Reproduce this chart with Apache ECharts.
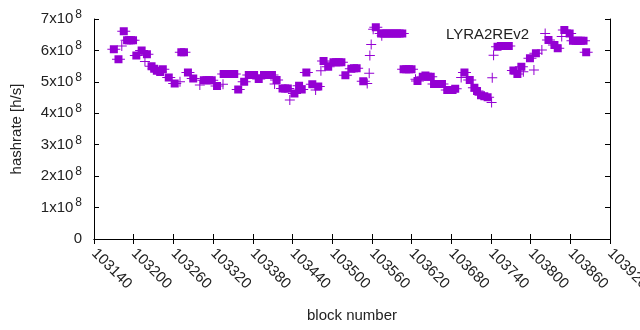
<!DOCTYPE html>
<html><head><meta charset="utf-8">
<script src="https://cdn.jsdelivr.net/npm/echarts@6/dist/echarts.min.js"></script>
<style>html,body{margin:0;padding:0;background:#fff}#c{width:640px;height:330px}</style>
</head><body><div id="c"></div>
<script>
// block number, hashrate [h/s] — squares
const squareBlocks = [103170,103177,103185,103190,103193,103196,103199,103204,103212,103220,103227,103231,103235,103240,103244,103253,103262,103272,103276,103282,103290,103306,103310,103314,103318,103326,103336,103340,103344,103348,103352,103358,103367,103374,103378,103382,103389,103397,103401,103405,103409,103416,103425,103429,103433,103443,103450,103454,103461,103470,103479,103487,103494,103502,103506,103510,103514,103520,103529,103533,103537,103547,103566,103574,103578,103582,103586,103590,103594,103598,103602,103606,103608,103612,103616,103620,103629,103637,103641,103645,103649,103654,103658,103662,103666,103674,103678,103682,103686,103700,103708,103715,103719,103725,103730,103735,103750,103755,103759,103763,103767,103774,103780,103786,103799,103808,103827,103836,103841,103851,103859,103864,103868,103872,103876,103880,103884];
const squareValues = [6.04e8,5.72e8,6.61e8,6.32e8,6.32e8,6.32e8,6.32e8,5.84e8,6.00e8,5.88e8,5.50e8,5.42e8,5.35e8,5.31e8,5.40e8,5.14e8,4.95e8,5.94e8,5.94e8,5.30e8,5.11e8,5.05e8,5.05e8,5.05e8,5.05e8,4.87e8,5.25e8,5.25e8,5.25e8,5.25e8,5.25e8,4.76e8,5.00e8,5.22e8,5.22e8,5.22e8,5.09e8,5.22e8,5.22e8,5.22e8,5.22e8,5.06e8,4.79e8,4.79e8,4.79e8,4.63e8,4.88e8,4.76e8,5.30e8,4.92e8,4.85e8,5.66e8,5.48e8,5.62e8,5.62e8,5.62e8,5.62e8,5.21e8,5.42e8,5.43e8,5.43e8,5.02e8,6.74e8,6.54e8,6.54e8,6.54e8,6.54e8,6.54e8,6.54e8,6.54e8,6.54e8,6.54e8,5.40e8,5.40e8,5.40e8,5.40e8,5.03e8,5.16e8,5.20e8,5.16e8,5.16e8,4.93e8,4.93e8,4.93e8,4.93e8,4.74e8,4.74e8,4.74e8,4.78e8,5.30e8,5.06e8,4.81e8,4.71e8,4.57e8,4.54e8,4.51e8,6.12e8,6.14e8,6.14e8,6.14e8,6.14e8,5.36e8,5.25e8,5.48e8,5.75e8,5.91e8,6.33e8,6.17e8,6.07e8,6.65e8,6.54e8,6.31e8,6.31e8,6.31e8,6.31e8,6.31e8,5.94e8];
// plus-only points
const plusBlocks = [103182,103217,103270,103300,103335,103413,103436,103475,103483,103553,103556,103557,103559,103562,103575,103626,103695,103741,103742,103744,103789,103805,103817,103822,103847];
const plusValues = [6.14e8,5.65e8,5.00e8,4.90e8,4.92e8,4.93e8,4.42e8,4.74e8,5.35e8,4.95e8,5.27e8,5.84e8,6.19e8,6.67e8,6.47e8,5.08e8,5.14e8,4.34e8,5.13e8,5.85e8,5.32e8,5.38e8,6.01e8,6.54e8,6.44e8];
const yTicks = ['0','1x10','2x10','3x10','4x10','5x10','6x10','7x10'];
const seriesName = 'LYRA2REv2';
const xMin = 103140, xMax = 103920, xStep = 60;

const col = '#9400d3';
const sq = squareBlocks.map((b,i)=>[b, squareValues[i]]);
const pl = plusBlocks.map((b,i)=>[b, plusValues[i]]);
const font = '"Liberation Sans", Arial, sans-serif';
const chart = echarts.init(document.getElementById('c'), null, {renderer:'canvas'});
const axLine = {show:true, lineStyle:{color:'#000', width:1}};
chart.setOption({
  animation:false,
  backgroundColor:'#fff',
  grid:{left:94, right:30, top:19, bottom:91, containLabel:false, outerBoundsMode:'none'},
  title:{text:seriesName, right:106, top:22, textStyle:{fontFamily:font, fontSize:15, fontWeight:'normal', color:'#222'}},
  xAxis:[{type:'value', min:xMin, max:xMax, interval:xStep, position:'bottom',
    axisLine:axLine, axisTick:{inside:true, length:5, lineStyle:{color:'#000'}},
    splitLine:{show:false},
    axisLabel:{rotate:-45, margin:12, fontFamily:font, fontSize:15, color:'#222', showMaxLabel:true, formatter:(v)=>String(v)},
    name:'block number', nameLocation:'middle', nameGap:69,
    nameTextStyle:{fontFamily:font, fontSize:15, color:'#222'}},
   {type:'value', min:xMin, max:xMax, interval:xStep, position:'top',
    axisLine:axLine, axisTick:{inside:true, length:5, lineStyle:{color:'#000'}},
    splitLine:{show:false}, axisLabel:{show:false}}],
  yAxis:[{type:'value', min:0, max:7e8, interval:1e8, position:'left',
    axisLine:axLine, axisTick:{inside:true, length:5, lineStyle:{color:'#000'}},
    splitLine:{show:false},
    axisLabel:{margin:12, color:'#222', fontFamily:font,
      formatter:(v)=>{const i=Math.round(v/1e8); return i===0?'{m|0}':'{m|'+yTicks[i]+'}{s|8}';},
      rich:{m:{fontSize:15, fontFamily:font, color:'#222'}, s:{fontSize:12, fontFamily:font, color:'#222', padding:[0,0,9,2]}}},
    name:'hashrate [h/s]', nameLocation:'middle', nameGap:70, nameRotate:90,
    nameTextStyle:{fontFamily:font, fontSize:15, color:'#222'}},
   {type:'value', min:0, max:7e8, interval:1e8, position:'right',
    axisLine:axLine, axisTick:{inside:true, length:5, lineStyle:{color:'#000'}},
    splitLine:{show:false}, axisLabel:{show:false}}],
  series:[
    {type:'scatter', name:'plus', data:pl, symbol:'path://M0,4.5H10V5.5H0Z M4.5,0H5.5V10H4.5Z', symbolSize:10,
     itemStyle:{color:col, opacity:1}, silent:true},
    {type:'scatter', name:seriesName, data:sq, symbol:'path://M0,3.5H13V4.5H0Z M2.5,0H10.5V8H2.5Z', symbolSize:[13,8],
     itemStyle:{color:col, opacity:1}, silent:true}
  ]
});
</script></body></html>
